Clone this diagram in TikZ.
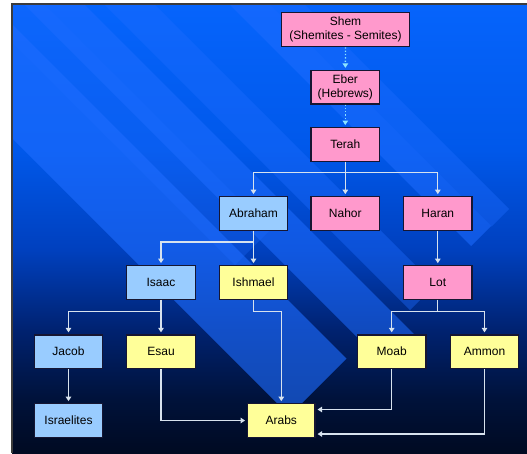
\documentclass[tikz,border=0pt]{standalone}
\usepackage{fontspec}
\setmainfont{Liberation Sans}
\usetikzlibrary{arrows.meta}
\definecolor{bgA}{RGB}{0,10,34}
\definecolor{bgB}{RGB}{0,18,58}
\definecolor{bgC}{RGB}{0,34,112}
\definecolor{bgD}{RGB}{0,64,190}
\definecolor{bgE}{RGB}{0,88,234}
\definecolor{bgF}{RGB}{6,100,252}
\definecolor{bandc}{RGB}{30,108,255}
\definecolor{pinkc}{RGB}{255,153,204}
\definecolor{bluec}{RGB}{153,204,255}
\definecolor{yellowc}{RGB}{255,255,153}
\definecolor{boxline}{RGB}{22,22,50}
\definecolor{lineclr}{RGB}{215,226,238}
\definecolor{dotclr}{RGB}{140,228,255}
\definecolor{frameclr}{RGB}{60,60,60}
\pgfdeclareverticalshading{panelshade}{100bp}{color(0bp)=(bgA); color(25bp)=(bgA); color(31bp)=(bgB); color(38.7bp)=(bgC); color(47.6bp)=(bgD); color(58.7bp)=(bgE); color(75bp)=(bgF); color(100bp)=(bgF)}
\newcommand\diagband[4]{%
  \fill[bandc, fill opacity=#4] ({(#3-(#1))/2},{(#3+(#1))/2}) -- ({(#3-(#2))/2},{(#3+(#2))/2}) -- ({(-400-(#2))/2},{(-400+(#2))/2}) -- ({(-400-(#1))/2},{(-400+(#1))/2}) -- cycle;}
\tikzset{
  box/.style={draw=boxline, line width=1.2pt, minimum width=68.5pt, minimum height=33.5pt,
    inner sep=1pt, align=center, text=black, font=\fontsize{12}{13.8}\selectfont},
  pinkbox/.style={box, fill=pinkc},
  bluebox/.style={box, fill=bluec},
  yellowbox/.style={box, fill=yellowc},
  conn/.style={draw=lineclr, line width=1.3pt, -{Triangle[width=5.5pt,length=4.5pt]}, shorten >=2pt},
  dotconn/.style={conn, draw=dotclr, dotted},
}
\begin{document}
\begin{tikzpicture}[x=1pt,y=-1pt]
\useasboundingbox (0,0) rectangle (527,453);
\fill[white] (0,0) rectangle (527,453);
\shade[shading=panelshade] (12,4) rectangle (527,453);
\begin{scope}
  \clip (12,4) rectangle (527,453);
  \diagband{-40}{30}{500}{0.3}
  \diagband{12}{126}{705}{0.62}
  \diagband{-80}{-20}{748}{0.55}
  \diagband{-150}{-100}{720}{0.4}
  \diagband{-300}{-265}{718}{0.4}
  \diagband{-265}{-225}{717}{0.55}
\end{scope}
\draw[frameclr, line width=1.2pt] (527,4) -- (12,4) -- (12,453);

\node[pinkbox, minimum width=127.6pt, minimum height=34pt] (shem) at (345.5,29.7) {Shem\\(Shemites - Semites)};
\node[pinkbox] (eber) at (345.3,87.2) {Eber\\(Hebrews)};
\node[pinkbox] (terah) at (345.3,144.4) {Terah};
\node[bluebox] (abraham) at (253.5,213.5) {Abraham};
\node[pinkbox] (nahor) at (345.3,213.5) {Nahor};
\node[pinkbox] (haran) at (437.8,213.5) {Haran};
\node[bluebox] (isaac) at (161,282.5) {Isaac};
\node[yellowbox] (ishmael) at (253.5,282.5) {Ishmael};
\node[pinkbox] (lot) at (437.8,282.5) {Lot};
\node[bluebox] (jacob) at (68.5,351.7) {Jacob};
\node[yellowbox] (esau) at (161,351.7) {Esau};
\node[yellowbox] (moab) at (391.7,351.7) {Moab};
\node[yellowbox] (ammon) at (484.5,351.7) {Ammon};
\node[bluebox] (israelites) at (68.5,420.5) {Israelites};
\node[yellowbox, minimum width=67.3pt] (arabs) at (281.3,420.5) {Arabs};

\coordinate (tb) at (345.3,172.5);
\coordinate (ab) at (253.5,242);
\coordinate (ib) at (161,311.5);
\coordinate (lb) at (437.8,311.5);
\coordinate (ishb) at (253.5,311.5);

\draw[dotconn] (shem) -- (eber);
\draw[dotconn] (eber) -- (terah);
\draw[conn] (terah.south) -- (tb) -| (abraham.north);
\draw[conn] (terah.south) -- (tb) -| (haran.north);
\draw[conn] (terah) -- (nahor);
\draw[conn] (haran) -- (lot);
\draw[conn] (abraham.south) -- (ab) -| (isaac.north);
\draw[conn] (abraham) -- (ishmael);
\draw[conn] (isaac.south) -- (ib) -| (jacob.north);
\draw[conn] (isaac) -- (esau);
\draw[conn] (lot.south) -- (lb) -| (moab.north);
\draw[conn] (lot.south) -- (lb) -| (ammon.north);
\draw[conn] (jacob) -- (israelites);
\draw[conn] (ishmael.south) -- (ishb) -| (arabs.north);
\draw[conn] (esau.south) |- (arabs.west);
\draw[conn] (moab.south) |- ([yshift=11pt]arabs.east);
\draw[conn] (ammon.south) |- ([yshift=-13.5pt]arabs.east);
\end{tikzpicture}
\end{document}
